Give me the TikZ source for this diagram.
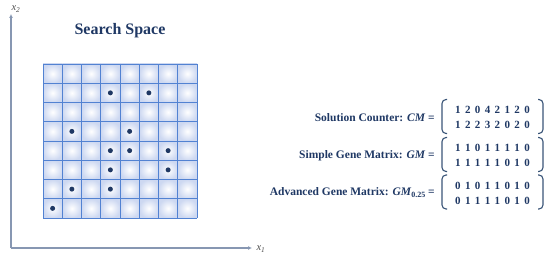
\documentclass[tikz,border=0pt]{standalone}
\usepackage{fontspec}
\setmainfont{Liberation Serif}
\usetikzlibrary{arrows.meta}
\definecolor{navy}{HTML}{1F3864}
\definecolor{axisc}{HTML}{8797B2}
\definecolor{gridline}{HTML}{5282D2}
\definecolor{cellout}{HTML}{CDD8F1}
\definecolor{brk}{HTML}{3A5578}
\newcommand{\dg}[1]{\makebox[9.86pt]{#1}}
\newcommand{\dgrow}[8]{\dg{#1}\dg{#2}\dg{#3}\dg{#4}\dg{#5}\dg{#6}\dg{#7}\dg{#8}}
\begin{document}
\begin{tikzpicture}[x=1pt,y=-1pt,
  axisline/.style={draw=axisc,line width=1.8pt,-{Latex[length=4pt,width=4pt]}},
  axislabel/.style={font=\fontsize{10.5}{12}\selectfont\itshape,text=black!70,inner sep=0pt},
  cellbox/.style={inner color=white,outer color=cellout},
  gridlines/.style={draw=gridline,line width=0.9pt},
  dot/.style={circle,fill=navy,inner sep=0pt,minimum size=5pt},
  title/.style={font=\fontsize{16}{18}\selectfont\bfseries,text=navy},
  lab/.style={font=\fontsize{11.5}{13}\selectfont\bfseries,text=navy,anchor=base east,inner sep=0pt},
  mrow/.style={font=\fontsize{11}{13}\selectfont\bfseries,text=navy,inner sep=0pt,anchor=base},
  bracket/.style={draw=brk,line width=1.1pt,rounded corners=4pt}]
\useasboundingbox (0,0) rectangle (550,256);
% axes
\coordinate (O) at (11,248);
\coordinate (ytip) at (11,14);
\coordinate (xtip) at (252,248);
\draw[axisline] (O) -- (ytip);
\draw[axisline] (O) -- (xtip);
\node[axislabel] (x2) at (16,9) {x\textsubscript{2}};
\node[axislabel] (x1) at (261,249) {x\textsubscript{1}};
% title
\node[title] (title) at (120,31) {Search Space};
% grid cells
\foreach \i in {0,...,7}{
  \foreach \j in {0,...,7}{
    \shade[cellbox] ({43+\i*19.25},{64+\j*19.25}) rectangle ++(19.25,19.25);
  }
}
\foreach \i in {0,...,8}{
  \draw[gridlines] ({43+\i*19.25},64) -- ({43+\i*19.25},218);
  \draw[gridlines] (43,{64+\i*19.25}) -- (197,{64+\i*19.25});
}
% dots (col,row)
\foreach \c/\r [count=\k] in {3/1,5/1,1/3,4/3,3/4,4/4,6/4,3/5,6/5,1/6,3/6,0/7}{
  \node[dot] (d\k) at ({43+(\c+0.5)*19.25},{64+(\r+0.5)*19.25}) {};
}
% labels
\node[lab] (lcm) at (435,122) {Solution Counter: \textit{CM} =};
\node[lab] (lgm) at (435,159) {Simple Gene Matrix: \textit{GM} =};
\node[lab] (lagm) at (435,196) {Advanced Gene Matrix: \textit{GM}\raisebox{-0.3ex}{\fontsize{8}{9}\selectfont 0.25} =};
% matrices
\node[mrow] (cm1) at (492.5,114) {\dgrow12042120};
\node[mrow] (cm2) at (492.5,129) {\dgrow12232020};
\node[mrow] (gm1) at (492.5,152) {\dgrow11011110};
\node[mrow] (gm2) at (492.5,167) {\dgrow11111010};
\node[mrow] (agm1) at (492.5,189.5) {\dgrow01011010};
\node[mrow] (agm2) at (492.5,204.5) {\dgrow01111010};
% brackets
\foreach \c in {116.5,154.5,192}{
  \draw[bracket] (447,{\c-17}) -- (442,{\c-17}) -- (442,{\c+17}) -- (447,{\c+17});
  \draw[bracket] (538,{\c-17}) -- (543,{\c-17}) -- (543,{\c+17}) -- (538,{\c+17});
}
\end{tikzpicture}
\end{document}
